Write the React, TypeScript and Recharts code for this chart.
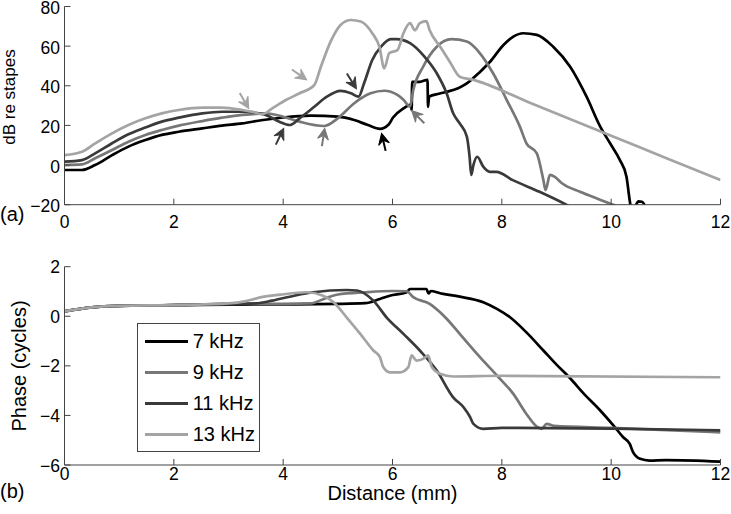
import React from "react";
import { ComposedChart, Line, XAxis, YAxis, Scatter, Legend } from "recharts";

// series names
const series = ["7 kHz", "9 kHz", "11 kHz", "13 kHz"];

// amplitude (dB re stapes) vs distance (mm)
const amp7 = [
  [0, -2.5], [0.32, -2.5], [0.56, 0], [0.87, 5], [1.17, 9.3], [1.48, 12.6], [1.78, 15.2],
  [2.09, 16.8], [2.52, 18.5], [2.88, 19.9], [3.25, 21], [3.6, 22.6], [4, 24], [4.5, 24.9], [5, 24.4],
  [5.3, 22.7], [5.55, 20.2], [5.77, 18.3], [5.93, 20.5], [6.01, 24], [6.2, 28.6], [6.34, 30.5],
  [6.35, 27.8], [6.36, 42], [6.5, 42], [6.64, 43], [6.65, 29.4], [6.67, 34.5], [6.85, 36], [7, 37],
  [7.2, 38.8], [7.36, 41.2], [7.6, 47], [7.78, 52], [8.03, 60.6], [8.21, 64.8], [8.39, 66.5],
  [8.64, 65.7], [8.94, 59.7], [9.25, 49.6], [9.55, 34.5], [9.8, 19.4], [9.98, 11], [10.16, 2.5],
  [10.28, -5.9], [10.34, -18], [10.38, -24], [10.44, -21], [10.5, -18.3], [10.56, -18.5],
  [10.62, -21], [10.66, -26],
];
const amp9 = [
  [0, 0], [0.32, 0.3], [0.56, 3.4], [0.87, 7.6], [1.17, 11.8], [1.48, 15.2], [1.78, 17.7],
  [2.09, 19.9], [2.52, 22.2], [2.88, 23.9], [3.25, 25.3], [3.5, 25.8], [3.68, 26.1], [4, 24.4],
  [4.3, 21.9], [4.75, 19.7], [5, 23.6], [5.3, 31.2], [5.6, 36.2], [5.85, 37.5], [6.09, 35.4],
  [6.2, 33], [6.32, 29.5], [6.38, 37.9], [6.56, 49.6], [6.81, 59.7], [7.08, 63.5], [7.36, 62.3],
  [7.6, 56.4], [7.84, 46.3], [8.09, 32.8], [8.33, 19.4], [8.45, 11], [8.64, 5.9], [8.76, -7.6],
  [8.8, -12.6], [8.88, -5], [8.97, -6], [9.1, -9.2], [9.43, -13.5], [9.73, -16.8], [10.04, -20],
  [10.1, -20.5],
];
const amp11 = [
  [0, 1.7], [0.32, 2.5], [0.56, 5.9], [0.87, 11], [1.17, 15.5], [1.48, 18.9], [1.78, 21.9],
  [2.09, 23.9], [2.52, 26.1], [2.88, 26.9], [3.25, 26.9], [3.5, 26.4], [3.68, 25.3], [3.93, 21.9],
  [4.12, 20.2], [4.3, 23.6], [4.57, 29.4], [4.8, 34.5], [5.05, 37.4], [5.24, 36.2], [5.38, 34.5],
  [5.48, 41.3], [5.63, 53], [5.79, 59.7], [5.97, 63.5], [6.07, 63.5], [6.32, 61.5], [6.56, 55.5],
  [6.81, 46.3], [6.99, 36.2], [7.11, 26.1], [7.23, 21], [7.36, 14.3], [7.41, 4.2], [7.44, -5],
  [7.48, 0], [7.55, 4.2], [7.66, -0.8], [7.78, -3.4], [7.9, -3.4], [8.2, -7.6], [8.69, -13.5],
  [9.18, -20], [9.25, -21],
];
const amp13 = [
  [0, 5], [0.32, 6.7], [0.56, 10.9], [0.87, 16], [1.17, 20.2], [1.48, 23.6], [1.78, 26.1],
  [2.09, 27.8], [2.52, 29], [2.88, 29], [3.25, 27.8], [3.44, 26.8], [3.62, 25.6], [3.8, 28.6],
  [4.05, 32.8], [4.3, 36.2], [4.57, 40.4], [4.69, 49.6], [4.88, 63], [5.05, 70.7], [5.24, 73.2],
  [5.42, 72.4], [5.63, 66.5], [5.76, 59.7], [5.85, 48.8], [5.94, 56.4], [6.09, 58], [6.2, 66.5],
  [6.32, 71.6], [6.41, 68], [6.5, 71.6], [6.62, 72.6], [6.68, 68], [6.87, 59.8], [7.05, 52],
  [7.23, 44.6], [7.48, 43], [8.5, 31.6], [10, 14.8], [11, 3.6], [12, -7.6],
];

// phase (cycles) vs distance (mm), bottom panel
const ph7 = [
  [0, 0.2], [0.5, 0.36], [1, 0.42], [2, 0.45], [3, 0.47], [4, 0.48], [5, 0.5], [5.5, 0.53],
  [5.77, 0.7], [5.95, 0.83], [6.26, 0.97], [6.32, 1.1], [6.62, 1.1], [6.66, 0.92], [6.7, 1.02],
  [6.87, 0.93], [7.23, 0.79], [7.66, 0.57], [7.91, 0.3], [8.15, -0.04], [8.45, -0.65],
  [8.76, -1.38], [9, -1.95], [9.25, -2.5], [9.49, -3.1], [9.8, -3.8], [10.04, -4.4], [10.22, -4.88],
  [10.34, -5.15], [10.4, -5.48], [10.53, -5.75], [10.7, -5.82], [11, -5.8], [12, -5.86],
];
const ph9 = [
  [0, 0.2], [0.5, 0.36], [1, 0.42], [2, 0.45], [3, 0.5], [4, 0.5], [4.5, 0.52], [4.8, 0.75],
  [5, 0.88], [5.5, 0.97], [6, 1.02], [6.26, 1.01], [6.38, 0.77], [6.68, 0.5], [6.87, 0.16],
  [6.99, -0.1], [7.23, -0.71], [7.6, -1.65], [7.91, -2.39], [8.21, -3.13], [8.45, -3.94],
  [8.64, -4.45], [8.73, -4.54], [8.82, -4.34], [8.95, -4.42], [10, -4.5], [12, -4.68],
];
const ph11 = [
  [0, 0.2], [0.5, 0.36], [1, 0.42], [2, 0.45], [3, 0.5], [3.5, 0.52], [3.8, 0.63], [4.2, 0.83],
  [4.55, 0.97], [5.16, 1.06], [5.35, 1.04], [5.65, 0.63], [5.89, -0.04], [6.2, -0.71], [6.5, -1.38],
  [6.81, -2.19], [7.11, -3.27], [7.3, -3.67], [7.42, -4.07], [7.48, -4.34], [7.66, -4.54],
  [8, -4.5], [10, -4.53], [12, -4.6],
];
const ph13 = [
  [0, 0.2], [0.5, 0.36], [1, 0.42], [2, 0.45], [3, 0.52], [3.3, 0.6], [3.6, 0.77], [3.94, 0.87],
  [4.43, 0.97], [4.73, 0.83], [4.92, 0.57], [5.16, -0.04], [5.41, -0.71], [5.65, -1.38],
  [5.77, -1.65], [5.83, -2.05], [5.95, -2.26], [6.14, -2.26], [6.29, -2.05], [6.35, -1.58],
  [6.44, -1.79], [6.59, -1.68], [6.65, -1.58], [6.72, -2.05], [6.87, -2.32], [7.11, -2.43],
  [8, -2.4], [12, -2.46],
];

// arrow annotations in the top panel: tip position, pointing angle (deg), series
const arrows = [
  { d: 3.37, v: 28.5, ang: 60, s: "13 kHz" },
  { d: 4.43, v: 43, ang: 35, s: "13 kHz" },
  { d: 5.34, v: 38.5, ang: 58, s: "11 kHz" },
  { d: 4.01, v: 18.5, ang: -64, s: "11 kHz" },
  { d: 4.76, v: 18.5, ang: -81, s: "9 kHz" },
  { d: 5.8, v: 16, ang: -103, s: "7 kHz" },
  { d: 6.35, v: 27.5, ang: -135, s: "9 kHz" },
];

// tick labels
const xTicks = [0, 2, 4, 6, 8, 10, 12];
const ampTicks = [-20, 0, 20, 40, 60, 80];
const phTicks = [-6, -4, -2, 0, 2];

const COLORS: Record<string, string> = {
  "7 kHz": "#000000",
  "9 kHz": "#777777",
  "11 kHz": "#3a3a3a",
  "13 kHz": "#a4a4a4",
};
const AXIS = "#444";
const FONT = "'Liberation Sans', Arial, Helvetica, sans-serif";
const TICK_FS = 17.5;

const pts = (arr: number[][]) => arr.map(([d, v]) => ({ d, v }));
const fmt = (v: number) => String(v).replace("-", "\u2212");

const BottomTick = ({ x, y, payload, dy }: any) => (
  <g>
    <line x1={x} y1={y} x2={x} y2={y - 6} stroke={AXIS} />
    <text x={x} y={y + dy} textAnchor="middle" fontSize={TICK_FS} fontFamily={FONT} fill="#000">
      {fmt(payload.value)}
    </text>
  </g>
);
const TopTick = ({ x, y }: any) => <line x1={x} y1={y} x2={x} y2={y + 6} stroke={AXIS} />;
const LeftTick = ({ x, y, payload, dy }: any) => (
  <g>
    <line x1={x} y1={y} x2={x + 6} y2={y} stroke={AXIS} />
    <text x={x - 4.5} y={y + dy} textAnchor="end" fontSize={TICK_FS} fontFamily={FONT} fill="#000">
      {fmt(payload.value)}
    </text>
  </g>
);
const RightTick = ({ x, y }: any) => <line x1={x} y1={y} x2={x - 6} y2={y} stroke={AXIS} />;

const ArrowMark = (props: any) => {
  const { cx, cy, payload } = props;
  const c = COLORS[payload.s];
  return (
    <g transform={`translate(${cx},${cy}) rotate(${payload.ang})`}>
      <line x1={-18} y1={0} x2={-6} y2={0} stroke={c} strokeWidth={2} />
      <path d="M0,0 L-11,-5.5 L-7,0 L-11,5.5 Z" fill={c} stroke={c} strokeWidth={1} />
    </g>
  );
};

const LegendBox = ({ payload }: any) => {
  const items = (payload || [])
    .filter((e: any) => e.type !== "none")
    .slice()
    .sort((a: any, b: any) => series.indexOf(a.value) - series.indexOf(b.value));
  return (
    <div
      style={{
        border: `1px solid ${AXIS}`,
        background: "#fff",
        width: 123,
        height: 129,
        boxSizing: "border-box",
        paddingTop: 2,
      }}
    >
      {items.map((e: any) => (
        <div key={e.value} style={{ display: "flex", alignItems: "center", height: 31 }}>
          <span style={{ width: 43, height: 0, borderTop: `3px solid ${e.color}`, marginLeft: 7, marginRight: 5 }} />
          <span style={{ fontSize: 20, fontFamily: FONT, color: "#000", lineHeight: "24px" }}>{e.value}</span>
        </div>
      ))}
    </div>
  );
};

const Text = ({ text, cx, cy, size, h, w, rotate, left }: any) => (
  <div
    style={{
      position: "absolute",
      left: left !== undefined ? left : cx - w / 2,
      top: cy - h / 2,
      width: w,
      height: h,
      lineHeight: `${h}px`,
      fontSize: size,
      fontFamily: FONT,
      textAlign: left !== undefined ? "left" : "center",
      whiteSpace: "nowrap",
      transform: rotate ? "rotate(-90deg)" : undefined,
      color: "#000",
    }}
  >
    {text}
  </div>
);

const axes = (yTicks: number[], yDomain: number[], xHeight: number, xDy: number, yDy: number) => [
  <XAxis
    key="xb"
    dataKey="d"
    type="number"
    domain={[0, 12]}
    ticks={xTicks}
    allowDataOverflow
    height={xHeight}
    tickSize={0}
    tickMargin={0}
    tickLine={false}
    axisLine={{ stroke: AXIS }}
    tick={<BottomTick dy={xDy} />}
    interval={0}
  />,
  <XAxis
    key="xt"
    xAxisId="top"
    orientation="top"
    dataKey="d"
    type="number"
    domain={[0, 12]}
    ticks={xTicks}
    allowDataOverflow
    height={0}
    tickSize={0}
    tickMargin={0}
    tickLine={false}
    axisLine={{ stroke: AXIS }}
    tick={<TopTick />}
    interval={0}
  />,
  <YAxis
    key="yl"
    type="number"
    domain={yDomain}
    ticks={yTicks}
    allowDataOverflow
    width={64.5}
    tickSize={0}
    tickMargin={0}
    tickLine={false}
    axisLine={{ stroke: AXIS }}
    tick={<LeftTick dy={yDy} />}
    interval={0}
  />,
  <YAxis
    key="yr"
    yAxisId="right"
    orientation="right"
    type="number"
    domain={yDomain}
    ticks={yTicks}
    allowDataOverflow
    width={0}
    tickSize={0}
    tickMargin={0}
    tickLine={false}
    axisLine={{ stroke: AXIS }}
    tick={<RightTick />}
    interval={0}
  />,
];

const lineProps = {
  dataKey: "v",
  type: "monotone" as const,
  strokeWidth: 2.7,
  dot: false,
  activeDot: false,
  isAnimationActive: false,
};

export default function App() {
  const ampData = [amp7, amp9, amp11, amp13];
  const phData = [ph7, ph9, ph11, ph13];
  return (
    <div style={{ position: "absolute", left: 0, top: 0, width: 731, height: 514, background: "#fff" }}>
      <div style={{ position: "absolute", left: 0, top: 0 }}>
        <ComposedChart width={731} height={250} margin={{ top: 6.5, right: 10.5, bottom: 0, left: 0 }}>
          {axes(ampTicks, [-20, 80], 45.3, 23.3, 7.5)}
          {series.map((s, i) => (
            <Line key={s} {...lineProps} name={s} data={pts(ampData[i])} stroke={COLORS[s]} />
          ))}
          <Scatter data={arrows} dataKey="v" shape={<ArrowMark />} legendType="none" isAnimationActive={false} />
        </ComposedChart>
      </div>
      <div style={{ position: "absolute", left: 0, top: 250 }}>
        <ComposedChart width={731} height={264} margin={{ top: 16.7, right: 10.5, bottom: 0, left: 0 }}>
          {axes(phTicks, [-6, 2], 49, 15, 6.5)}
          {series.map((s, i) => (
            <Line key={s} {...lineProps} name={s} data={pts(phData[i])} stroke={COLORS[s]} />
          ))}
          <Legend
            layout="vertical"
            align="center"
            verticalAlign="middle"
            content={<LegendBox />}
            wrapperStyle={{ left: 136.7, top: 72.7, width: 123, height: 129 }}
          />
        </ComposedChart>
      </div>
      <Text text="dB re stapes" cx={10} cy={96.7} size={17} h={20} w={150} rotate />
      <Text text="Phase (cycles)" cx={18.7} cy={366} size={20} h={24} w={180} rotate />
      <Text text="(a)" left={0} cy={213.8} size={20} h={24} w={40} />
      <Text text="(b)" left={0} cy={491.3} size={20} h={24} w={40} />
      <Text text="Distance (mm)" cx={392.5} cy={492.5} size={20} h={20} w={220} />
    </div>
  );
}
